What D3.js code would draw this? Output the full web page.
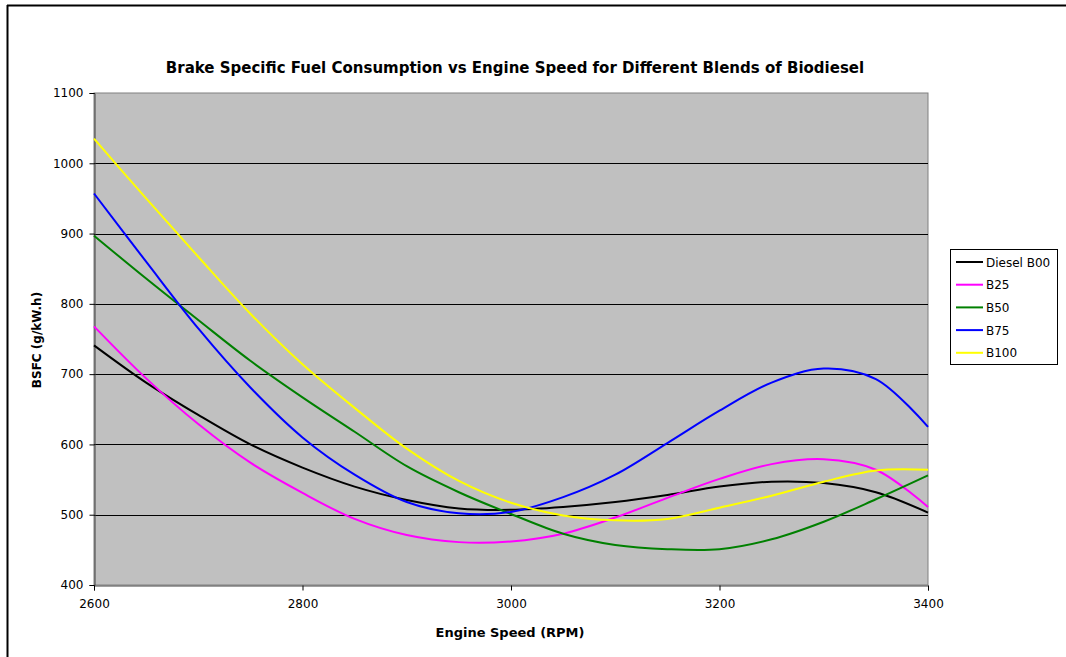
<!DOCTYPE html>
<html>
<head>
<meta charset="utf-8">
<script src="https://cdn.jsdelivr.net/npm/d3@7"></script>
<style>
  html, body { margin: 0; padding: 0; background: #ffffff; }
  svg { display: block; }
  text { font-family: "DejaVu Sans", sans-serif; }
</style>
</head>
<body>
<svg id="chart" width="1066" height="657"></svg>
<script>
// ---- Data ----
const rpm = [2600, 2650, 2700, 2750, 2800, 2850, 2900, 2950, 3000, 3050, 3100, 3150, 3200, 3250, 3300, 3350, 3400];
const dieselB00 = [741, 688, 642, 600, 567, 540, 521, 509, 507, 511, 518, 528, 540, 547, 545, 532, 503];
const b25 = [768, 694, 629, 574, 531, 494, 471, 461, 462, 473, 496, 524, 551, 572, 579, 564, 511];
const b50 = [897, 836, 777, 719, 667, 618, 569, 532, 501, 473, 457, 451, 451, 465, 490, 522, 556];
const b75 = [957, 860, 765, 681, 610, 557, 518, 502, 504, 525, 557, 602, 648, 688, 708, 693, 625];
const b100 = [1035, 950, 867, 786, 714, 652, 594, 548, 517, 499, 492, 494, 510, 527, 547, 563, 564];

const seriesNames = ["Diesel B00", "B25", "B50", "B75", "B100"];
const seriesValues = [dieselB00, b25, b50, b75, b100];
const seriesColors = ["#000000", "#ff00ff", "#008000", "#0000ff", "#ffff00"];

const xTicks = [2600, 2800, 3000, 3200, 3400];
const yTicks = [400, 500, 600, 700, 800, 900, 1000, 1100];

const titleText = "Brake Specific Fuel Consumption vs Engine Speed for Different Blends of Biodiesel";
const xTitle = "Engine Speed (RPM)";
const yTitle = "BSFC (g/kW.h)";

// ---- Layout ----
const FONT = "'DejaVu Sans', sans-serif";
const svg = d3.select("#chart");
const plot = { left: 94, top: 93, right: 928, bottom: 585 };

const x = d3.scaleLinear().domain([2600, 3400]).range([plot.left, plot.right]);
const y = d3.scaleLinear().domain([400, 1100]).range([plot.bottom, plot.top]);

// outer chart border (top and left visible)
svg.append("line").attr("x1", 7).attr("y1", 5.5).attr("x2", 1066).attr("y2", 5.5)
  .attr("stroke", "#000").attr("stroke-width", 2);
svg.append("line").attr("x1", 7.5).attr("y1", 5).attr("x2", 7.5).attr("y2", 657)
  .attr("stroke", "#000").attr("stroke-width", 2);

// plot background
svg.append("rect")
  .attr("x", plot.left).attr("y", plot.top)
  .attr("width", plot.right - plot.left).attr("height", plot.bottom - plot.top)
  .attr("fill", "#c0c0c0").attr("stroke", "#808080").attr("stroke-width", 1);

// gridlines
svg.append("g").selectAll("line")
  .data(yTicks.filter(d => d > 400 && d < 1100))
  .join("line")
  .attr("x1", plot.left).attr("x2", plot.right)
  .attr("y1", d => Math.round(y(d)) + 0.5).attr("y2", d => Math.round(y(d)) + 0.5)
  .attr("stroke", "#000").attr("stroke-width", 1);

// axes
const yAxis = d3.axisLeft(y).tickValues(yTicks).tickSize(5).tickPadding(6).tickFormat(d3.format("d"));
const gy = svg.append("g").attr("transform", `translate(${plot.left + 0.5},0)`).call(yAxis);
gy.select(".domain").attr("stroke", "#404040");
gy.selectAll(".tick line").attr("stroke", "#000");
gy.selectAll(".tick text").attr("font-size", 12).attr("fill", "#000").attr("font-family", FONT);

const xAxis = d3.axisBottom(x).tickValues(xTicks).tickSize(5).tickPadding(9).tickFormat(d3.format("d"));
const gx = svg.append("g").attr("transform", `translate(0,${plot.bottom + 0.5})`).call(xAxis);
gx.select(".domain").attr("stroke", "#404040");
gx.selectAll(".tick line").attr("stroke", "#000");
gx.selectAll(".tick text").attr("font-size", 12).attr("fill", "#000").attr("font-family", FONT);

// series lines
const line = d3.line()
  .x((d, i) => x(rpm[i]))
  .y(d => y(d))
  .curve(d3.curveCatmullRom.alpha(0.5));

svg.append("g").selectAll("path")
  .data(seriesValues)
  .join("path")
  .attr("d", d => line(d))
  .attr("fill", "none")
  .attr("stroke", (d, i) => seriesColors[i])
  .attr("stroke-width", 2)
  .attr("stroke-linejoin", "round");

// title
svg.append("text")
  .attr("x", 515).attr("y", 73)
  .attr("text-anchor", "middle")
  .attr("font-size", 15).attr("font-weight", "bold")
  .text(titleText);

// axis titles
svg.append("text")
  .attr("x", 510).attr("y", 637)
  .attr("text-anchor", "middle")
  .attr("font-size", 13).attr("font-weight", "bold")
  .text(xTitle);

svg.append("text")
  .attr("transform", "translate(41,340) rotate(-90)")
  .attr("text-anchor", "middle")
  .attr("font-size", 12).attr("font-weight", "bold")
  .text(yTitle);

// legend
const legend = svg.append("g");
legend.append("rect")
  .attr("x", 950.5).attr("y", 249.5).attr("width", 107).attr("height", 115)
  .attr("fill", "#fff").attr("stroke", "#000").attr("stroke-width", 1);
const items = legend.selectAll("g.item")
  .data(seriesNames)
  .join("g")
  .attr("class", "item")
  .attr("transform", (d, i) => `translate(0,${262 + i * 22.7})`);
items.append("line")
  .attr("x1", 956).attr("x2", 983).attr("y1", 0).attr("y2", 0)
  .attr("stroke", (d, i) => seriesColors[i]).attr("stroke-width", 2);
items.append("text")
  .attr("x", 986).attr("y", 4.5)
  .attr("font-size", 12)
  .text(d => d);
</script>
</body>
</html>
